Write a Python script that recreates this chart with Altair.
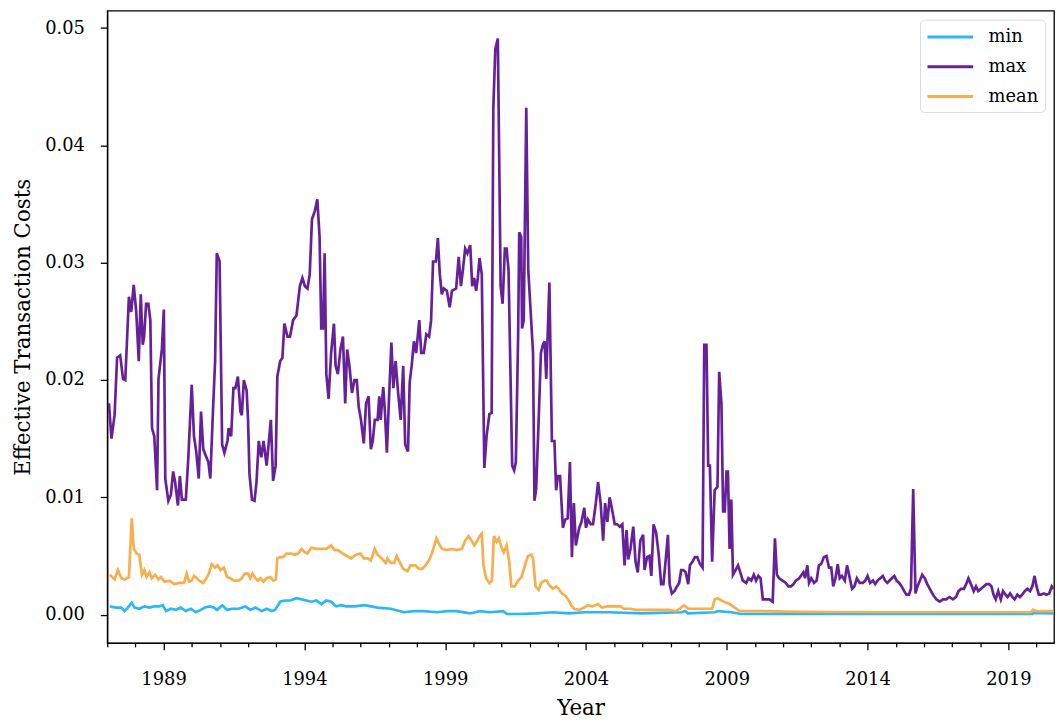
import altair as alt
import pandas as pd

# ---- data (decimal year, value) ----
max_years = [1987.06,1987.15,1987.26,1987.35,1987.46,1987.56,1987.64,1987.77,1987.85,1987.94,
1988.03,1988.12,1988.19,1988.26,1988.31,1988.38,1988.46,1988.53,1988.59,1988.67,1988.77,1988.82,1988.94,
1989.01,1989.06,1989.17,1989.26,1989.34,1989.41,1989.51,1989.58,1989.65,1989.79,1989.88,
1990.00,1990.08,1990.16,1990.25,1990.33,1990.41,1990.49,1990.59,1990.66,1990.76,1990.83,1990.89,1990.99,
1991.08,1991.16,1991.27,1991.31,1991.40,1991.48,1991.55,1991.64,1991.73,1991.78,1991.85,1991.95,
1992.00,1992.05,1992.14,1992.23,1992.30,1992.38,1992.47,1992.55,1992.66,1992.81,1992.89,1992.98,
1993.04,1993.14,1993.22,1993.29,1993.40,1993.49,1993.60,1993.72,1993.84,1993.93,
1994.02,1994.11,1994.19,1994.27,1994.37,1994.46,1994.54,1994.60,1994.66,1994.72,1994.78,1994.86,1994.95,
1995.05,1995.11,1995.19,1995.28,1995.37,1995.45,1995.52,1995.60,1995.69,1995.78,1995.86,1995.93,
1996.01,1996.11,1996.19,1996.28,1996.36,1996.43,1996.50,1996.60,1996.66,1996.71,1996.80,1996.86,1996.93,
1997.01,1997.09,1997.16,1997.24,1997.33,1997.42,1997.51,1997.58,1997.68,1997.74,1997.81,1997.89,1997.97,
1998.08,1998.15,1998.24,1998.33,1998.43,1998.50,1998.57,1998.67,1998.74,1998.81,1998.88,1998.95,
1999.06,1999.16,1999.24,1999.39,1999.48,1999.56,1999.63,1999.71,1999.79,1999.89,1999.96,
2000.03,2000.10,2000.16,2000.22,2000.30,2000.39,2000.47,2000.57,2000.65,2000.71,2000.78,2000.87,2000.97,
2001.04,2001.12,2001.18,2001.25,2001.38,2001.45,2001.51,2001.59,2001.63,2001.70,2001.73,2001.79,2001.88,2001.95,
2002.02,2002.12,2002.17,2002.23,2002.32,2002.40,2002.47,2002.53,2002.59,2002.70,2002.79,2002.88,2002.94,
2003.00,2003.08,2003.18,2003.26,2003.35,2003.43,2003.50,2003.57,2003.64,2003.76,2003.84,2003.94,
2004.00,2004.07,2004.17,2004.25,2004.35,2004.43,2004.52,2004.61,2004.68,2004.76,2004.84,2004.94,
2005.02,2005.11,2005.20,2005.29,2005.37,2005.44,2005.50,2005.58,2005.68,2005.76,2005.84,2005.93,
2006.03,2006.08,2006.17,2006.25,2006.32,2006.40,2006.49,2006.58,2006.67,2006.75,2006.84,2006.91,2006.97,
2007.05,2007.14,2007.23,2007.31,2007.38,2007.46,2007.54,2007.63,2007.69,2007.78,2007.87,2007.95,
2008.05,2008.14,2008.20,2008.28,2008.34,2008.40,2008.48,2008.57,2008.67,2008.73,2008.81,2008.87,2008.93,2008.99,
2009.04,2009.10,2009.16,2009.22,2009.31,2009.40,2009.48,2009.57,2009.69,2009.77,2009.87,2009.96,
2010.04,2010.12,2010.20,2010.28,2010.51,2010.63,2010.71,2010.78,2010.86,2010.98,
2011.10,2011.19,2011.28,2011.37,2011.45,2011.57,2011.66,2011.72,2011.78,2011.86,2011.92,
2012.00,2012.10,2012.19,2012.27,2012.35,2012.45,2012.54,2012.63,2012.71,2012.78,2012.86,2012.94,
2013.01,2013.09,2013.19,2013.27,2013.35,2013.45,2013.53,2013.62,2013.72,2013.83,2013.92,
2014.00,2014.09,2014.19,2014.27,2014.35,2014.45,2014.54,2014.62,2014.70,2014.86,2014.95,
2015.03,2015.12,2015.21,2015.30,2015.38,2015.47,2015.54,2015.62,2015.70,2015.77,2015.86,2015.94,
2016.03,2016.12,2016.21,2016.32,2016.44,2016.56,2016.68,2016.79,2016.91,
2017.03,2017.14,2017.23,2017.32,2017.42,2017.50,2017.58,2017.67,2017.77,2017.85,2017.93,
2018.03,2018.12,2018.22,2018.32,2018.40,2018.47,2018.55,2018.64,2018.73,2018.81,2018.90,2018.97,
2019.06,2019.14,2019.22,2019.32,2019.41,2019.49,2019.58,2019.67,2019.77,2019.85,2019.93,
2020.00,2020.08,2020.16,2020.26,2020.35,2020.45,2020.54,2020.60]
max_vals = [0.0180,0.0150,0.0170,0.0219,0.0221,0.0201,0.0200,0.0271,0.0258,0.0281,
0.0258,0.0216,0.0273,0.0230,0.0237,0.0265,0.0265,0.0251,0.0159,0.0152,0.0106,0.0201,0.0226,
0.0260,0.0116,0.0097,0.0102,0.0122,0.0113,0.0093,0.0118,0.0098,0.0098,0.0134,
0.0196,0.0152,0.0139,0.0116,0.0173,0.0141,0.0136,0.0130,0.0116,0.0177,0.0216,0.0308,0.0301,
0.0145,0.0138,0.0148,0.0159,0.0152,0.0193,0.0193,0.0203,0.0173,0.0170,0.0200,0.0191,
0.0166,0.0120,0.0098,0.0097,0.0113,0.0148,0.0134,0.0148,0.0127,0.0166,0.0114,0.0127,
0.0203,0.0216,0.0219,0.0248,0.0237,0.0237,0.0251,0.0255,0.0280,0.0287,
0.0280,0.0278,0.0290,0.0337,0.0344,0.0354,0.0322,0.0244,0.0244,0.0308,0.0205,0.0184,0.0223,
0.0248,0.0212,0.0205,0.0226,0.0237,0.0180,0.0226,0.0212,0.0189,0.0200,0.0200,0.0177,
0.0166,0.0146,0.0180,0.0186,0.0141,0.0148,0.0166,0.0166,0.0186,0.0166,0.0194,0.0173,0.0138,
0.0187,0.0232,0.0193,0.0216,0.0189,0.0166,0.0212,0.0145,0.0139,0.0198,0.0212,0.0233,0.0223,
0.0251,0.0223,0.0223,0.0239,0.0237,0.0251,0.0301,0.0301,0.0321,0.0290,0.0273,0.0278,
0.0276,0.0262,0.0276,0.0278,0.0305,0.0280,0.0294,0.0312,0.0308,0.0315,0.0280,
0.0287,0.0276,0.0287,0.0304,0.0290,0.0125,0.0152,0.0171,0.0172,0.0432,0.0482,0.0491,0.0280,
0.0265,0.0312,0.0312,0.0294,0.0127,0.0123,0.0130,0.0237,0.0326,0.0322,0.0244,0.0251,0.0432,0.0294,
0.0265,0.0223,0.0097,0.0107,0.0166,0.0223,0.0230,0.0233,0.0201,0.0283,0.0148,0.0148,0.0106,
0.0118,0.0118,0.0074,0.0081,0.0082,0.0130,0.0049,0.0095,0.0059,0.0074,0.0079,0.0091,
0.0074,0.0081,0.0077,0.0077,0.0095,0.0113,0.0095,0.0063,0.0095,0.0079,0.0100,0.0088,
0.0077,0.0077,0.0075,0.0077,0.0042,0.0072,0.0047,0.0056,0.0075,0.0045,0.0036,0.0063,
0.0068,0.0038,0.0049,0.0050,0.0033,0.0077,0.0070,0.0052,0.0026,0.0026,0.0049,0.0068,0.0026,
0.0018,0.0020,0.0024,0.0027,0.0038,0.0038,0.0036,0.0026,0.0042,0.0045,0.0049,0.0049,
0.0043,0.0040,0.0230,0.0230,0.0127,0.0127,0.0045,0.0106,0.0109,0.0207,0.0180,0.0088,0.0088,0.0122,
0.0122,0.0056,0.0098,0.0034,0.0038,0.0042,0.0036,0.0029,0.0027,0.0031,0.0029,0.0034,
0.0029,0.0033,0.0031,0.0013,0.0013,0.0011,0.0065,0.0034,0.0031,0.0029,
0.0027,0.0024,0.0024,0.0026,0.0029,0.0031,0.0034,0.0036,0.0031,0.0042,0.0027,
0.0031,0.0027,0.0029,0.0042,0.0043,0.0049,0.0050,0.0040,0.0040,0.0024,0.0031,0.0043,
0.0031,0.0033,0.0029,0.0042,0.0033,0.0022,0.0024,0.0031,0.0027,0.0027,0.0029,
0.0033,0.0027,0.0029,0.0026,0.0029,0.0031,0.0033,0.0029,0.0027,0.0031,0.0033,
0.0029,0.0027,0.0024,0.0020,0.0017,0.0017,0.0022,0.0107,0.0018,0.0024,0.0029,0.0034,
0.0031,0.0026,0.0022,0.0017,0.0013,0.0011,0.0013,0.0013,0.0015,
0.0013,0.0015,0.0020,0.0022,0.0022,0.0026,0.0031,0.0026,0.0020,0.0024,0.0020,
0.0022,0.0024,0.0026,0.0026,0.0024,0.0017,0.0013,0.0020,0.0013,0.0020,0.0017,0.0015,
0.0018,0.0015,0.0013,0.0017,0.0015,0.0017,0.0020,0.0022,0.0020,0.0024,0.0033,
0.0024,0.0017,0.0017,0.0018,0.0017,0.0018,0.0024,0.0022]

mean_years = [1987.09,1987.26,1987.38,1987.50,1987.62,1987.77,1987.87,1987.94,1988.05,1988.14,
1988.23,1988.32,1988.40,1988.50,1988.58,1988.70,1988.82,1988.91,1989.03,1989.20,1989.38,1989.55,
1989.73,1989.82,1989.91,1990.00,1990.08,1990.18,1990.26,1990.41,1990.52,1990.61,1990.71,1990.82,
1990.92,1991.02,1991.14,1991.26,1991.37,1991.49,1991.67,1991.78,1991.88,1992.00,1992.08,1992.16,
1992.26,1992.35,1992.44,1992.55,1992.66,1992.78,1992.90,1992.99,1993.04,1993.14,1993.25,1993.37,
1993.54,1993.66,1993.78,1993.90,1994.02,1994.11,1994.25,1994.43,1994.60,1994.78,1994.95,1995.07,
1995.19,1995.43,1995.66,1995.83,1995.99,1996.11,1996.25,1996.36,1996.50,1996.60,1996.74,1996.89,
1996.95,1997.07,1997.19,1997.28,1997.40,1997.51,1997.66,1997.77,1997.95,1998.07,1998.18,1998.30,
1998.42,1998.54,1998.69,1998.77,1998.89,1999.06,1999.24,1999.42,1999.59,1999.71,1999.83,1999.94,
2000.03,2000.12,2000.22,2000.30,2000.36,2000.45,2000.57,2000.66,2000.73,2000.83,2000.91,2000.99,
2001.08,2001.18,2001.27,2001.35,2001.47,2001.59,2001.71,2001.82,2001.94,2002.06,2002.12,2002.21,
2002.32,2002.41,2002.53,2002.61,2002.70,2002.82,2002.94,2003.03,2003.15,2003.27,2003.39,2003.48,
2003.58,2003.76,2003.94,2004.06,2004.23,2004.44,2004.56,2004.76,2004.99,2005.23,2005.34,2005.58,
2005.76,2005.99,2006.46,2006.93,2007.17,2007.34,2007.48,2007.63,2008.11,2008.48,2008.57,2008.69,
2008.81,2008.99,2009.10,2009.28,2009.45,2010.22,2010.92,2012.50,2014.50,2016.50,2018.50,2019.80,
2019.87,2020.00,2020.60]
mean_vals = [0.0034,0.0030,0.0038,0.0031,0.0030,0.0032,0.0082,0.0056,0.0052,0.0051,
0.0034,0.0038,0.0032,0.0036,0.0031,0.0034,0.0030,0.0032,0.0028,0.0029,0.0026,0.0027,
0.0027,0.0035,0.0028,0.0029,0.0033,0.0031,0.0029,0.0027,0.0031,0.0035,0.0043,0.0040,
0.0042,0.0038,0.0040,0.0032,0.0031,0.0029,0.0029,0.0031,0.0035,0.0035,0.0031,0.0035,
0.0031,0.0029,0.0031,0.0028,0.0031,0.0032,0.0029,0.0030,0.0048,0.0049,0.0049,0.0052,
0.0052,0.0051,0.0052,0.0056,0.0053,0.0052,0.0057,0.0056,0.0056,0.0056,0.0059,0.0055,
0.0055,0.0051,0.0048,0.0051,0.0052,0.0048,0.0048,0.0046,0.0056,0.0051,0.0048,0.0044,
0.0048,0.0044,0.0044,0.0050,0.0044,0.0039,0.0037,0.0042,0.0042,0.0039,0.0039,0.0042,
0.0046,0.0053,0.0065,0.0061,0.0056,0.0055,0.0056,0.0055,0.0056,0.0063,0.0067,0.0063,
0.0059,0.0062,0.0067,0.0069,0.0042,0.0031,0.0027,0.0029,0.0067,0.0062,0.0065,0.0058,
0.0053,0.0059,0.0046,0.0024,0.0024,0.0029,0.0032,0.0041,0.0050,0.0051,0.0048,0.0024,
0.0021,0.0027,0.0029,0.0029,0.0025,0.0022,0.0024,0.0022,0.0018,0.0016,0.0012,0.0008,
0.0005,0.0004,0.0006,0.0008,0.0007,0.0009,0.0006,0.0007,0.0007,0.0007,0.0005,0.0005,
0.0004,0.0004,0.0004,0.0004,0.0003,0.0005,0.0008,0.0005,0.0005,0.0005,0.0013,0.0014,
0.0012,0.0010,0.0009,0.0006,0.0003,0.0003,0.00025,0.00022,0.0002,0.0002,0.0002,0.0002,
0.0004,0.0003,0.0003]

min_years = [1987.09,1987.32,1987.50,1987.62,1987.73,1987.87,1987.97,1988.14,1988.32,1988.50,
1988.67,1988.85,1988.97,1989.09,1989.26,1989.44,1989.61,1989.79,1989.97,1990.14,1990.32,1990.47,
1990.64,1990.79,1990.90,1991.08,1991.26,1991.43,1991.67,1991.90,1992.08,1992.26,1992.49,1992.66,
1992.84,1992.96,1993.14,1993.31,1993.49,1993.72,1993.90,1994.07,1994.25,1994.43,1994.60,1994.78,
1994.95,1995.13,1995.31,1995.48,1995.78,1996.13,1996.60,1997.07,1997.54,1997.89,1998.24,1998.71,
1999.06,1999.42,1999.88,2000.24,2000.59,2001.06,2001.20,2001.65,2002.23,2002.82,2003.41,2003.94,
2004.82,2005.99,2007.40,2007.52,2007.63,2008.57,2008.69,2009.16,2009.51,2012.00,2015.00,2018.00,
2019.85,2019.90,2020.60]
min_vals = [0.0007,0.0006,0.0006,0.0003,0.0006,0.0010,0.0006,0.0005,0.0007,0.0006,
0.0007,0.0007,0.0008,0.0003,0.0005,0.0004,0.0006,0.0003,0.0005,0.0002,0.0004,0.0006,
0.0007,0.0006,0.0004,0.0008,0.0004,0.0005,0.0005,0.0007,0.0004,0.0006,0.0003,0.0005,
0.0003,0.0004,0.0011,0.0012,0.0012,0.0014,0.0013,0.0012,0.0011,0.0012,0.0009,0.0012,
0.0011,0.0007,0.0008,0.0007,0.0007,0.0008,0.0006,0.0005,0.0002,0.0003,0.0003,0.0002,
0.0003,0.0003,0.0001,0.0003,0.0002,0.0003,0.00005,0.00005,0.0001,0.0002,0.0001,0.0002,
0.0002,0.0001,0.0002,0.0003,0.0001,0.0002,0.0003,0.0002,0.00005,0.00005,0.00005,0.00005,
0.00005,0.00015,0.0001]

series_names = ["min", "max", "mean"]
series_colors = ["#2ab7f8", "#65209a", "#f7ae4b"]
x_ticks = list(range(1987, 2021))
y_ticks = [0.0, 0.01, 0.02, 0.03, 0.04, 0.05]

rows = []
for name, ys, vs in [("min", min_years, min_vals), ("max", max_years, max_vals), ("mean", mean_years, mean_vals)]:
    for yr, v in zip(ys, vs):
        rows.append({"year": yr, "value": v, "series": name})
df = pd.DataFrame(rows)

FONT = "DejaVu Serif"

chart = alt.Chart(df).mark_line(strokeWidth=2.7, clip=True).encode(
    x=alt.X("year:Q",
            scale=alt.Scale(domain=[1987.0, 2020.62], nice=False, zero=False),
            axis=alt.Axis(title="Year", values=x_ticks, format="d",
                          labelExpr="datum.value % 5 == 4 ? datum.label : ''",
                          labelOverlap=False,
                          tickSize={"condition": {"test": "datum.value % 5 == 4", "value": 7}, "value": 4},
                          labelPadding=21, titlePadding=9)),
    y=alt.Y("value:Q",
            scale=alt.Scale(domain=[-0.00241, 0.05148], nice=False, zero=False),
            axis=alt.Axis(title="Effective Transaction Costs", values=y_ticks, format=".2f",
                          tickSize=7, labelPadding=16, titlePadding=10)),
    color=alt.Color("series:N",
                    scale=alt.Scale(domain=series_names, range=series_colors),
                    legend=alt.Legend(title=None, orient="top-right", offset=9,
                                      symbolType="M-1.0,0L3.6,0", symbolSize=400,
                                      symbolStrokeWidth=3, labelOffset=40,
                                      rowPadding=9, padding=6,
                                      strokeColor="#dcdcdc", cornerRadius=4,
                                      fillColor="white",
                                      labelFont=FONT, labelFontSize=18, labelColor="black")),
).properties(
    width=954, height=637,
    autosize=alt.AutoSizeParams(type="none"),
    padding={"left": 100, "top": 0, "right": 1, "bottom": 77},
).configure_view(
    stroke="black", strokeWidth=1.3
).configure_axis(
    grid=False, domainColor="black", domainWidth=1.3, tickColor="black", tickWidth=1.3,
    labelColor="black", titleColor="black", labelFont=FONT, titleFont=FONT,
    labelFontSize=18, titleFontSize=21.5, titleFontWeight="normal"
)

chart.save("out.html", embed_options={"renderer": "svg", "actions": False})
